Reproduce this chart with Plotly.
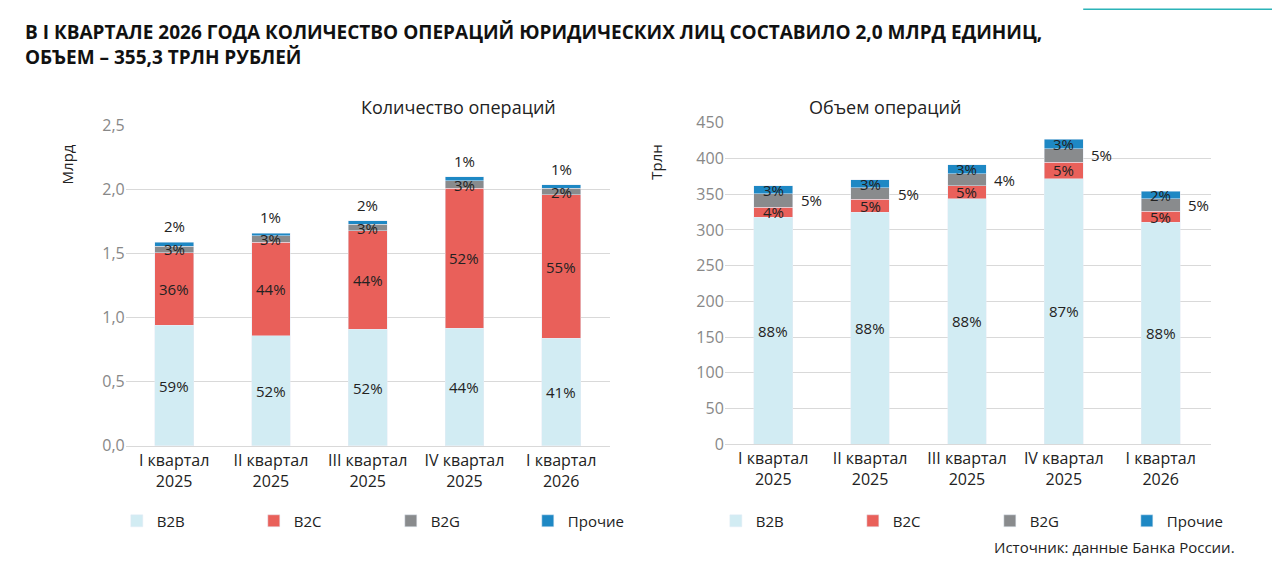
import plotly.graph_objects as go

quarters = ["I квартал<br>2025", "II квартал<br>2025", "III квартал<br>2025", "IV квартал<br>2025", "I квартал<br>2026"]

# Количество операций, млрд
cnt_b2b = [0.94, 0.86, 0.91, 0.92, 0.84]
cnt_b2c = [0.57, 0.73, 0.77, 1.09, 1.12]
cnt_b2g = [0.05, 0.05, 0.05, 0.06, 0.05]
cnt_oth = [0.03, 0.02, 0.03, 0.03, 0.03]
cnt_lbl_b2b = ["59%", "52%", "52%", "44%", "41%"]
cnt_lbl_b2c = ["36%", "44%", "44%", "52%", "55%"]
cnt_lbl_b2g = ["3%", "3%", "3%", "3%", "2%"]
cnt_lbl_oth = ["2%", "1%", "2%", "1%", "1%"]

# Объем операций, трлн руб.
vol_b2b = [318, 325, 344, 372, 311]
vol_b2c = [14, 18, 18, 23, 15]
vol_b2g = [19, 16, 17, 19, 18]
vol_oth = [11, 11, 12, 13, 10]
vol_lbl_b2b = ["88%", "88%", "88%", "87%", "88%"]
vol_lbl_b2c = ["4%", "5%", "5%", "5%", "5%"]
vol_lbl_b2g = ["5%", "5%", "4%", "5%", "5%"]
vol_lbl_oth = ["3%", "3%", "3%", "3%", "2%"]

names = ["B2B", "B2C", "B2G", "Прочие"]
colors = ["#d2ecf3", "#e9605a", "#898b8d", "#1e88c4"]
FONT = "Open Sans"

fig = go.Figure()

def add_stack(series, xa, ya, leg):
    for vals, col, nm in zip(series, colors, names):
        fig.add_trace(go.Bar(
            x=quarters, y=vals, name=nm, marker_color=col, width=0.4,
            xaxis=xa, yaxis=ya, legend=leg, hoverinfo="y",
        ))

add_stack([cnt_b2b, cnt_b2c, cnt_b2g, cnt_oth], "x", "y", "legend")
add_stack([vol_b2b, vol_b2c, vol_b2g, vol_oth], "x2", "y2", "legend2")

ann = []
for i, q in enumerate(quarters):
    base = cnt_b2b[i] + cnt_b2c[i]
    ann.append(dict(x=q, y=cnt_b2b[i] / 2, xref="x", yref="y", text=cnt_lbl_b2b[i], showarrow=False))
    ann.append(dict(x=q, y=cnt_b2b[i] + cnt_b2c[i] / 2, xref="x", yref="y", text=cnt_lbl_b2c[i], showarrow=False))
    ann.append(dict(x=q, y=base + cnt_b2g[i] / 2, xref="x", yref="y", text=cnt_lbl_b2g[i], showarrow=False))
    ann.append(dict(x=q, y=base + cnt_b2g[i] + cnt_oth[i], xref="x", yref="y", text=cnt_lbl_oth[i],
                    showarrow=False, yshift=16))
    vbase = vol_b2b[i] + vol_b2c[i]
    ann.append(dict(x=q, y=vol_b2b[i] / 2, xref="x2", yref="y2", text=vol_lbl_b2b[i], showarrow=False))
    ann.append(dict(x=q, y=vol_b2b[i] + vol_b2c[i] / 2, xref="x2", yref="y2", text=vol_lbl_b2c[i], showarrow=False))
    ann.append(dict(x=q, y=vbase + vol_b2g[i] / 2, xref="x2", yref="y2", text=vol_lbl_b2g[i],
                    showarrow=False, xshift=38))
    ann.append(dict(x=q, y=vbase + vol_b2g[i] + vol_oth[i] / 2, xref="x2", yref="y2", text=vol_lbl_oth[i],
                    showarrow=False))
for a in ann:
    a["font"] = dict(size=15, color="#222", family=FONT)

ann += [
    dict(x=0.012, y=0.985, xref="paper", yref="paper", xanchor="left", yanchor="top", align="left", showarrow=False,
         text="<b>В I КВАРТАЛЕ 2026 ГОДА КОЛИЧЕСТВО ОПЕРАЦИЙ ЮРИДИЧЕСКИХ ЛИЦ СОСТАВИЛО 2,0 МЛРД ЕДИНИЦ,<br>ОБЪЕМ – 355,3 ТРЛН РУБЛЕЙ</b>",
         font=dict(size=19, color="#111", family=FONT)),
    dict(x=0.274, y=0.855, xref="paper", yref="paper", text="Количество операций", showarrow=False,
         font=dict(size=18, color="#222", family=FONT)),
    dict(x=0.746, y=0.855, xref="paper", yref="paper", text="Объем операций", showarrow=False,
         font=dict(size=18, color="#222", family=FONT)),
    dict(x=0.037, y=0.77, xref="paper", yref="paper", text="Млрд", textangle=-90, showarrow=False,
         font=dict(size=15, color="#222", family=FONT)),
    dict(x=0.506, y=0.77, xref="paper", yref="paper", text="Трлн", textangle=-90, showarrow=False,
         font=dict(size=15, color="#222", family=FONT)),
    dict(x=0.96, y=0.055, xref="paper", yref="paper", xanchor="right", text="Источник: данные Банка России.",
         showarrow=False, font=dict(size=15, color="#222", family=FONT)),
]

axis_font = dict(size=16, color="#222", family=FONT)
legend_common = dict(orientation="h", yanchor="middle", y=0.12, font=dict(size=15, color="#222", family=FONT),
                     entrywidth=92, itemwidth=30, traceorder="normal", bgcolor="rgba(0,0,0,0)")

fig.update_layout(
    width=1280, height=583, barmode="stack", plot_bgcolor="white", paper_bgcolor="white",
    margin=dict(l=0, r=0, t=0, b=0, autoexpand=False), font=dict(family=FONT),
    annotations=ann,
    xaxis=dict(domain=[0.092, 0.47], tickfont=axis_font, showline=True, linecolor="#d9d9d9", ticks="",
               tickangle=0, automargin=False),
    yaxis=dict(domain=[0.249, 0.798], range=[0, 2.5], dtick=0.5, tickformat=".1f", automargin=False,
               tickfont=dict(size=16, color="#888", family=FONT), gridcolor="#d9d9d9", zeroline=False),
    xaxis2=dict(domain=[0.56, 0.94], tickfont=axis_font, showline=True, linecolor="#d9d9d9", ticks="",
                tickangle=0, automargin=False, anchor="y2"),
    yaxis2=dict(domain=[0.252, 0.803], range=[0, 450], dtick=50, anchor="x2", automargin=False,
                tickfont=dict(size=16, color="#888", family=FONT), gridcolor="#d9d9d9", zeroline=False),
    separators=", ",
    legend=dict(x=0.085, **legend_common),
    legend2=dict(x=0.553, **legend_common),
    shapes=[dict(type="line", xref="paper", yref="paper", x0=0.84, x1=1.0, y0=0.998, y1=0.998,
                 line=dict(color="#2bb3b8", width=1.5))],
)

fig.write_html("out.html")
